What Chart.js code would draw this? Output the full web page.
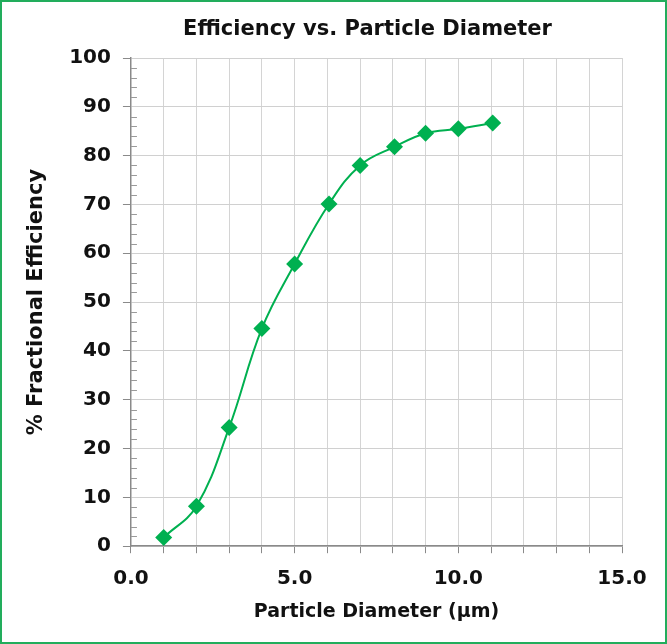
<!DOCTYPE html>
<html lang="en">
<head>
    <meta charset="UTF-8">
    <title>Efficiency vs. Particle Diameter</title>
    <script src="https://cdn.jsdelivr.net/npm/chart.js"></script>
    <style>
        html, body { margin: 0; padding: 0; background: #fff; }
        .frame {
            width: 667px;
            height: 644px;
            box-sizing: border-box;
            border: 2px solid #22ad5c;
            position: relative;
        }
        canvas { display: block; }
    </style>
</head>
<body>
    <div class="frame">
        <canvas id="chart" width="663" height="640"></canvas>
    </div>

    <script>
        // values
        const diameters = [1.0, 2.0, 3.0, 4.0, 5.0, 6.05, 7.0, 8.05, 9.0, 10.0, 11.05];
        const efficiency = [1.8, 8.2, 24.3, 44.6, 57.8, 70.1, 78.0, 81.8, 84.6, 85.5, 86.7];
        const xLabels = [0, 5, 10, 15];
        const chartTitle = 'Efficiency vs. Particle Diameter';

        const green = '#00b050';
        const fontFamily = '"DejaVu Sans", sans-serif';

        // small inside ticks every 2 units on the y axis
        const minorTicks = {
            id: 'minorTicks',
            afterDatasetsDraw(chart) {
                const y = chart.scales.y;
                const ctx = chart.ctx;
                ctx.save();
                ctx.strokeStyle = '#9a9a9a';
                ctx.lineWidth = 1;
                for (let v = 0; v <= 100; v += 2) {
                    if (v % 10 === 0) continue;
                    const py = Math.round(y.getPixelForValue(v)) + 0.5;
                    ctx.beginPath();
                    ctx.moveTo(y.right, py);
                    ctx.lineTo(y.right + 6, py);
                    ctx.stroke();
                }
                ctx.restore();
            }
        };

        // title sits a bit left of the plot centre, like the original
        const topTitle = {
            id: 'topTitle',
            afterDraw(chart) {
                const a = chart.chartArea;
                const ctx = chart.ctx;
                ctx.save();
                ctx.fillStyle = '#111';
                ctx.font = 'bold 21px ' + fontFamily;
                ctx.textAlign = 'center';
                ctx.textBaseline = 'middle';
                ctx.fillText(chartTitle, (a.left + a.right) / 2 - 9, 28);
                ctx.restore();
            }
        };

        const ctx = document.getElementById('chart').getContext('2d');
        new Chart(ctx, {
            type: 'line',
            data: {
                datasets: [{
                    data: diameters.map((d, i) => ({x: d, y: efficiency[i]})),
                    borderColor: green,
                    backgroundColor: green,
                    borderWidth: 2,
                    tension: 0.4,
                    pointStyle: 'rectRot',
                    pointRadius: 8.5,
                    pointBorderWidth: 0,
                    fill: false
                }]
            },
            options: {
                responsive: false,
                animation: false,
                layout: { padding: { left: 22, right: 43, top: 56, bottom: 19 } },
                plugins: {
                    legend: { display: false },
                    tooltip: { enabled: false },
                    title: { display: false }
                },
                scales: {
                    x: {
                        type: 'linear',
                        min: 0,
                        max: 15,
                        border: { color: '#8a8a8a', width: 1.5 },
                        grid: { color: '#d4d4d4', tickColor: '#8a8a8a', tickLength: 7 },
                        ticks: {
                            stepSize: 1,
                            autoSkip: false,
                            maxRotation: 0,
                            color: '#111',
                            padding: 14,
                            font: { family: fontFamily, size: 20, weight: 'bold' },
                            callback: v => xLabels.includes(v) ? v.toFixed(1) : ''
                        },
                        title: {
                            display: true,
                            text: 'Particle Diameter (\u00b5m)',
                            color: '#111',
                            font: { family: fontFamily, size: 19, weight: 'bold' },
                            padding: { top: -5, bottom: 0 }
                        }
                    },
                    y: {
                        min: 0,
                        max: 100,
                        border: { color: '#8a8a8a', width: 1.5 },
                        grid: { color: '#d0d0d0', tickColor: '#8a8a8a', tickLength: 8 },
                        ticks: {
                            stepSize: 10,
                            color: '#111',
                            padding: 12,
                            font: { family: fontFamily, size: 20, weight: 'bold' }
                        },
                        title: {
                            display: true,
                            text: '% Fractional Efficiency',
                            color: '#111',
                            font: { family: fontFamily, size: 21, weight: 'bold' },
                            padding: { top: 0, bottom: 8 }
                        }
                    }
                }
            },
            plugins: [minorTicks, topTitle]
        });
    </script>
</body>
</html>
